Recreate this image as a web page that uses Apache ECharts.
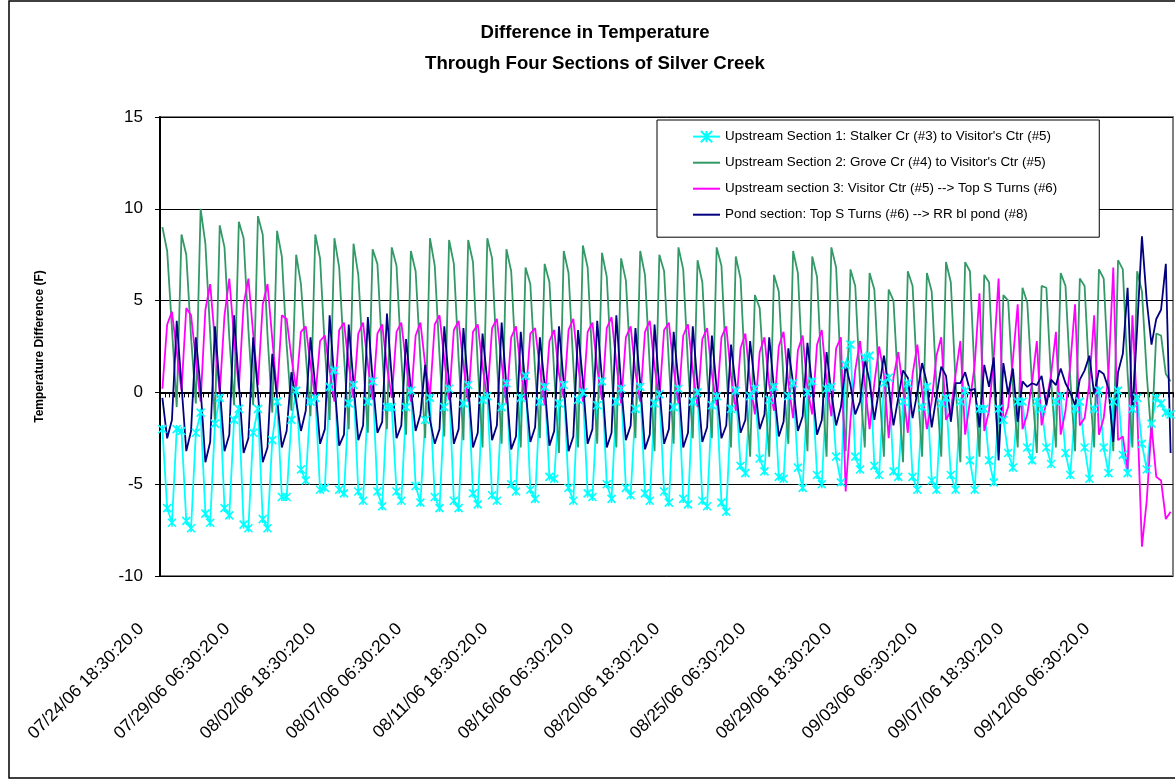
<!DOCTYPE html>
<html>
<head>
<meta charset="utf-8">
<title>Difference in Temperature</title>
<script src="https://cdn.jsdelivr.net/npm/echarts@6/dist/echarts.min.js"></script>
<style>
  html, body { margin: 0; padding: 0; background: #fff; }
  #chart { width: 1175px; height: 781px; }
</style>
</head>
<body>
<div id="chart"></div>
<script>
// 6-hourly readings, 4 per day starting 07/24/06 18:30:20
var startTime = Date.UTC(2006, 6, 24, 18, 30, 20);
var pointCount = 212;

var seriesNames = [
  'Upstream Section 1: Stalker Cr (#3) to Visitor\'s Ctr (#5)',
  'Upstream Section 2: Grove Cr (#4) to Visitor\'s Ctr (#5)',
  'Upstream section 3: Visitor Ctr (#5) --> Top S Turns (#6)',
  'Pond section: Top S Turns (#6) --> RR bl pond (#8)'
];

var section1 = [
  -2.0,-6.3,-7.1,-2.0, -2.1,-7.0,-7.4,-2.2, -1.1,-6.6,-7.1,-1.7, -0.3,-6.3,-6.7,-1.5,
  -0.9,-7.2,-7.4,-2.2, -0.9,-6.9,-7.4,-2.6, -0.5,-5.7,-5.7,-1.5, 0.1,-4.2,-4.8,-0.5,
  -0.3,-5.3,-5.2,0.3, 1.2,-5.3,-5.5,-0.6, 0.4,-5.4,-5.9,-0.5, 0.6,-5.4,-6.2,-0.8,
  -0.8,-5.4,-5.9,-0.8, 0.1,-5.1,-6.0,-1.5, -0.3,-5.7,-6.3,-0.8, 0.2,-5.9,-6.3,-0.6,
  0.4,-5.5,-6.1,-0.4, -0.2,-5.6,-5.9,-0.8, 0.5,-5.0,-5.4,-0.3, 0.9,-5.3,-5.8,-0.5,
  0.3,-4.6,-4.7,-0.6, 0.4,-5.2,-5.9,-0.4, 0.0,-5.5,-5.7,-0.7, 0.6,-5.0,-5.8,-0.5,
  0.2,-5.2,-5.6,-0.9, 0.3,-5.5,-5.9,-0.6, -0.1,-5.4,-6.0,-0.8, 0.2,-5.8,-6.1,-0.5,
  0.0,-5.9,-6.2,-0.7, -0.2,-6.0,-6.5,-0.9, 0.1,-4.0,-4.4,-0.2, 0.2,-3.6,-4.3,-0.4,
  0.3,-4.6,-4.7,-0.2, 0.5,-4.1,-5.2,0.0, 0.6,-4.5,-5.0,0.2, 0.3,-3.5,-4.9,1.5,
  2.6,-3.5,-4.2,1.9, 2.0,-4.0,-4.5,0.5, 0.8,-4.3,-4.6,-0.5, 0.5,-4.6,-5.3,-0.8,
  0.3,-4.8,-5.3,-0.6, -0.3,-4.5,-5.3,-0.5, 0.1,-3.7,-5.3,-0.9, -0.9,-3.7,-4.9,-0.9,
  -1.5,-3.3,-4.1,-0.5, -0.5,-3.0,-3.7,-0.5, -0.9,-3.0,-3.9,-0.5, -0.2,-3.3,-4.5,-0.9,
  -0.5,-3.0,-4.7,-0.9, 0.1,-3.0,-4.4,-0.5, 0.1,-3.4,-4.4,-0.9, -0.3,-2.8,-4.2,-1.7,
  -0.3,-0.6,-1.1,-1.2
];

var section2 = [
  9.0,7.7,3.5,-0.8, 8.6,7.5,3.0,-0.6, 10.0,8.1,3.2,-1.6, 9.1,7.9,3.0,-0.7,
  9.3,8.4,3.4,-0.7, 9.6,8.6,3.1,-1.1, 8.8,7.4,2.6,-1.0, 7.5,5.9,2.1,-1.3,
  8.6,7.3,2.4,-1.5, 8.4,6.8,2.0,-2.0, 8.1,6.4,1.8,-2.2, 7.8,7.0,2.2,-2.0,
  7.9,6.9,1.9,-2.3, 7.7,6.6,1.8,-2.5, 8.4,6.9,2.0,-2.4, 8.3,7.0,1.8,-2.6,
  8.3,7.1,1.5,-3.0, 8.4,7.3,1.7,-2.8, 7.8,6.6,1.4,-3.0, 6.8,5.9,1.2,-2.5,
  7.0,6.0,1.0,-3.3, 7.7,6.5,1.5,-3.0, 8.0,6.8,1.6,-2.8, 7.6,6.3,1.2,-3.0,
  7.3,6.1,1.3,-2.5, 7.7,6.4,1.4,-3.2, 7.5,6.6,1.6,-2.8, 7.9,6.7,1.5,-2.5,
  7.2,6.0,1.0,-2.5, 7.9,6.9,1.4,-3.0, 7.4,6.2,0.8,-3.5, 5.3,4.6,0.5,-3.5,
  6.4,5.5,0.6,-2.8, 7.7,6.5,1.0,-3.2, 7.4,6.3,0.8,-3.5, 7.9,6.8,1.0,-3.2,
  6.7,5.8,0.5,-3.0, 6.5,5.6,0.4,-3.5, 5.6,5.0,0.2,-3.8, 6.6,5.8,0.5,-3.5,
  6.5,5.5,0.3,-3.5, 7.1,6.0,0.5,-3.8, 7.1,6.6,0.8,-3.5, 6.4,6.0,0.5,-3.2,
  5.3,5.0,0.3,-3.0, 5.7,4.9,0.4,-3.3, 5.8,5.7,0.6,-3.0, 6.5,5.8,0.8,-3.2,
  6.2,5.8,0.6,-3.0, 6.7,6.2,0.8,-3.2, 7.2,6.7,1.0,-3.0, 6.6,5.5,1.0,-2.5,
  3.2,3.1,1.0,0.6
];

var section3 = [
  0.2,3.7,4.4,2.2, 0.1,4.6,4.2,1.8, -0.5,4.5,5.9,2.8, -0.1,4.2,6.2,3.0,
  0.2,4.8,6.2,3.2, 0.4,4.8,5.9,2.9, -0.1,4.2,4.0,1.9, 0.2,3.3,3.6,1.5,
  -0.3,2.8,3.1,1.2, -0.5,3.4,3.8,1.5, -0.3,3.2,3.8,1.5, -0.4,3.2,3.7,1.4,
  -0.3,3.3,3.8,1.6, -0.5,3.1,3.8,1.5, -0.2,3.7,4.2,1.8, -0.4,3.4,3.9,1.5,
  -0.5,3.3,3.7,1.4, -0.3,3.5,4.0,1.6, -0.6,3.0,3.6,1.2, -0.4,3.2,3.5,1.3,
  -0.7,2.8,3.4,1.0, -0.3,3.4,4.0,1.5, -0.5,3.3,3.8,1.3, -0.4,3.5,4.1,1.6,
  -0.6,3.0,3.6,1.1, -0.5,3.3,3.9,1.4, -0.4,3.4,3.8,1.3, -0.6,3.1,3.7,1.2,
  -0.8,2.9,3.5,1.0, -0.7,3.0,3.6,0.9, -1.0,2.4,3.2,0.6, -1.2,2.2,3.0,0.4,
  -1.0,2.5,3.3,0.5, -1.4,2.3,3.1,0.2, -1.2,2.6,3.4,0.6, -1.3,2.4,3.0,-5.4,
  -1.5,1.2,2.8,0.5, -2.0,0.5,2.5,1.0, -2.5,0.8,2.2,0.2, -2.2,1.0,2.6,0.0,
  -2.0,-0.5,2.0,3.0, -1.5,-1.0,1.0,2.8, -2.3,-0.5,1.5,5.4, -2.1,-1.0,2.0,6.2,
  -1.6,-0.8,1.8,4.8, -2.0,-1.2,0.5,2.8, -1.8,-0.5,1.0,3.3, -2.3,-1.0,1.5,4.8,
  -1.8,-1.4,0.5,4.2, -2.3,-1.4,1.0,6.8, -2.6,-2.4,-4.2,4.2, -1.0,-8.4,-5.9,-1.8,
  -4.6,-4.8,-6.9,-6.5
];

var pondSection = [
  -0.3,-2.5,-1.5,3.9, 0.4,-3.2,-2.1,3.0, 0.2,-3.8,-2.7,3.6, 0.3,-3.2,-2.3,4.2,
  0.5,-3.3,-2.5,3.0, 0.0,-3.8,-3.0,2.1, -0.3,-3.0,-2.1,1.1, -0.5,-2.1,-1.0,3.0,
  0.3,-2.8,-2.0,4.2, 0.6,-2.9,-2.3,3.7, 0.5,-2.6,-1.8,4.1, 0.7,-2.2,-1.6,4.3,
  0.8,-2.5,-1.8,2.9, 0.2,-2.1,-1.2,1.5, -1.5,-2.8,-2.0,3.6, 0.5,-2.8,-2.0,3.5,
  0.4,-3.0,-2.2,3.2, 0.6,-2.6,-1.8,3.8, 0.3,-3.1,-2.4,3.3, 0.2,-2.7,-1.9,3.0,
  0.4,-2.9,-2.1,3.6, 0.5,-3.2,-2.4,3.4, 0.6,-2.8,-2.0,3.9, 0.7,-3.0,-2.2,4.2,
  0.4,-2.6,-1.8,3.5, 0.5,-3.1,-2.3,3.7, 0.3,-2.8,-2.0,3.3, 0.6,-3.0,-2.2,3.6,
  0.4,-2.7,-1.9,3.1, 0.2,-2.5,-1.8,2.6, 0.3,-2.2,-1.5,2.8, 0.4,-2.0,-1.2,3.0,
  0.2,-2.4,-1.6,2.4, 0.5,-2.1,-1.3,2.7, 0.3,-2.3,-1.5,2.2, 0.0,-1.8,-0.8,1.5,
  0.4,-1.2,-0.5,1.8, 0.6,-1.5,0.2,2.0, 0.3,-1.8,-0.3,1.2, 0.8,-1.4,0.0,1.6,
  0.5,-1.9,-0.2,1.4, 0.9,-1.6,0.5,0.5, 1.1,0.1,0.2,-1.9, 1.5,0.3,1.9,-3.7,
  1.6,-0.1,1.3,-1.6, 0.6,0.3,0.5,0.4, 0.9,-0.7,0.7,0.4, 1.3,0.5,0.0,-0.7,
  0.7,1.2,2.0,-0.1, 1.2,1.0,0.2,-2.7, 1.1,2.1,5.7,-1.1, 3.5,8.5,5.0,2.6,
  4.0,4.5,7.0,-3.3
];

var yTicks = { min: -10, max: 15, step: 5 };

function pad(n) { return (n < 10 ? '0' : '') + n; }
var timeLabels = [];
for (var i = 0; i < pointCount; i++) {
  var d = new Date(startTime + i * 6 * 3600 * 1000);
  timeLabels.push(pad(d.getUTCMonth() + 1) + '/' + pad(d.getUTCDate()) + '/' +
    pad(d.getUTCFullYear() % 100) + ' ' + pad(d.getUTCHours()) + ':' +
    pad(d.getUTCMinutes()) + ':' + pad(d.getUTCSeconds()) + '.0');
}

var font = "'Liberation Sans', Arial, sans-serif";
var chart = echarts.init(document.getElementById('chart'));

chart.setOption({
  animation: false,
  backgroundColor: '#ffffff',
  textStyle: { fontFamily: font, color: '#000' },
  title: {
    text: 'Difference in Temperature\nThrough Four Sections of Silver Creek',
    left: 590,
    textAlign: 'center',
    top: 12,
    textStyle: { fontFamily: font, fontSize: 18.6, fontWeight: 'bold', color: '#000', lineHeight: 31 }
  },
  graphic: [{
    type: 'rect',
    shape: { x: 9, y: 1, width: 1200, height: 777 },
    style: { fill: 'none', stroke: '#000', lineWidth: 1.5 },
    silent: true
  }],
  legend: {
    orient: 'vertical',
    left: 657,
    top: 120,
    padding: [10, 42, 16, 35],
    itemGap: 13,
    itemWidth: 27,
    itemHeight: 14,
    backgroundColor: '#ffffff',
    borderColor: '#000',
    borderWidth: 1,
    borderRadius: 0,
    textStyle: { fontFamily: font, fontSize: 13.4, color: '#000' },
    data: [
      { name: seriesNames[0] },
      { name: seriesNames[1], itemStyle: { opacity: 0 } },
      { name: seriesNames[2], itemStyle: { opacity: 0 } },
      { name: seriesNames[3], itemStyle: { opacity: 0 } }
    ]
  },
  grid: {
    left: 160,
    top: 117,
    width: 1013,
    height: 459,
    show: true,
    borderColor: '#808080',
    borderWidth: 2,
    backgroundColor: 'transparent'
  },
  xAxis: {
    type: 'category',
    data: timeLabels,
    boundaryGap: true,
    axisLine: { lineStyle: { color: '#000', width: 2 } },
    axisTick: { show: true, interval: 0, length: 5, lineStyle: { color: '#000', width: 1 } },
    axisLabel: {
      interval: 17, rotate: 45, margin: 29, fontSize: 17.5, fontFamily: font, color: '#000',
      padding: [0, 30, 0, 0]
    },
    splitLine: { show: false }
  },
  yAxis: {
    type: 'value',
    min: yTicks.min,
    max: yTicks.max,
    interval: yTicks.step,
    name: 'Temperature Difference (F)',
    nameLocation: 'middle',
    nameGap: 114,
    nameTextStyle: { fontFamily: font, fontSize: 12, fontWeight: 'bold', color: '#000' },
    axisLine: { show: true, lineStyle: { color: '#000', width: 2 } },
    axisTick: { show: true, length: 5, lineStyle: { color: '#000' } },
    axisLabel: { margin: 17, fontSize: 17, fontFamily: font, color: '#000' },
    splitLine: { show: true, lineStyle: { color: '#000', width: 1 } }
  },
  series: [
    {
      name: seriesNames[0],
      type: 'line',
      data: section1,
      symbol: 'path://M0,0L10,10M10,0L0,10M5,0L5,10',
      symbolSize: 8,
      showSymbol: true,
      showAllSymbol: true,
      lineStyle: { color: '#00FFFF', width: 1.8 },
      itemStyle: { color: '#00FFFF', borderColor: '#00FFFF', borderWidth: 1.6 }
    },
    {
      name: seriesNames[1],
      type: 'line',
      data: section2,
      symbol: 'none',
      lineStyle: { color: '#339966', width: 1.8 },
      itemStyle: { color: '#339966' }
    },
    {
      name: seriesNames[2],
      type: 'line',
      data: section3,
      symbol: 'none',
      lineStyle: { color: '#FF00FF', width: 1.8 },
      itemStyle: { color: '#FF00FF' }
    },
    {
      name: seriesNames[3],
      type: 'line',
      data: pondSection,
      symbol: 'none',
      lineStyle: { color: '#000080', width: 1.8 },
      itemStyle: { color: '#000080' }
    }
  ]
});
</script>
</body>
</html>
